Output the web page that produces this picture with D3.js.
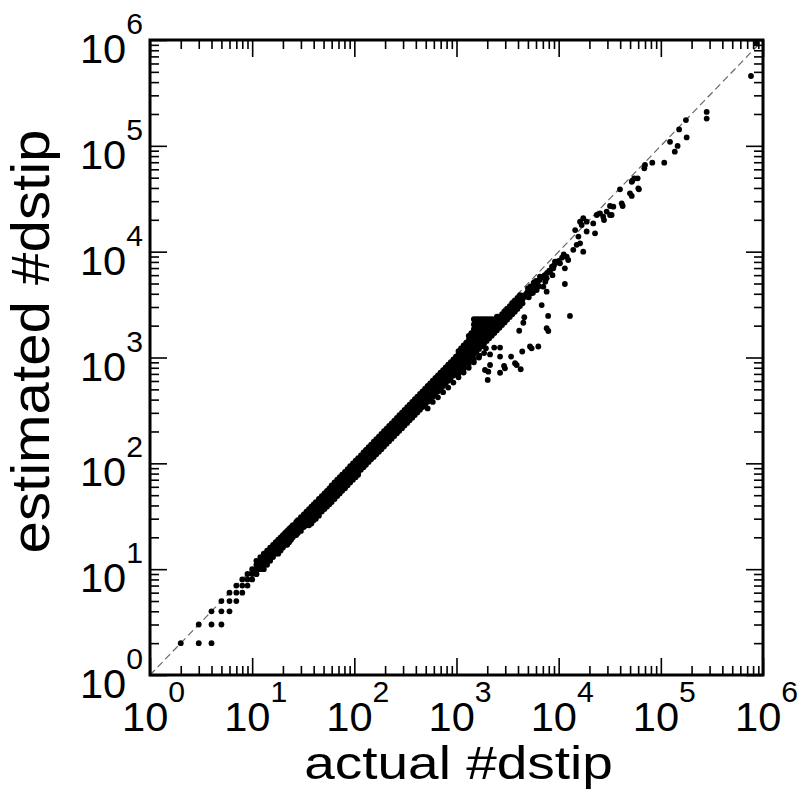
<!DOCTYPE html>
<html>
<head>
<meta charset="utf-8">
<script src="https://cdn.jsdelivr.net/npm/d3@7"></script>
<style>
    body { margin: 0; background: #fff; }
    #chart-area { width: 799px; height: 791px; }
    text { font-family: "Liberation Sans", Arial, sans-serif; fill: #000; }
</style>
</head>
<body>
<div id="chart-area"></div>
<script>
// integer region: [actual, estimated]
const lowPoints = [
    [2, 2], [3, 2], [4, 2], [3, 3], [4, 3], [5, 3], [4, 4], [5, 4], [6, 4],
    [5, 5], [6, 5], [7, 5], [6, 6], [7, 6], [8, 6], [7, 7], [8, 7], [9, 7],
    [8, 8], [9, 8], [10, 8], [9, 9], [10, 9], [11, 9], [10, 10], [11, 10]
];

// dense band: one column of estimates per actual value
const bandActual = [
    11, 12, 13, 14, 15, 16, 17, 18, 19, 20, 21, 22, 23, 24, 25, 27, 28, 30, 32, 34,
    36, 38, 40, 42, 45, 48, 51, 54, 57, 60, 64, 68, 72, 76, 81, 86, 91, 97, 103, 109,
    116, 123, 130, 138, 146, 155, 164, 174, 184, 195, 207, 219, 232, 246, 261, 276, 293,
    310, 329, 348, 369, 391, 414, 439, 465, 493, 522, 553, 586, 621, 658, 697, 739, 783,
    830, 879, 932, 987, 1046, 1108, 1174, 1244, 1318, 1396, 1479, 1567, 1660, 1759, 1863,
    1974, 2091, 2216, 2347, 2487, 2635, 2791, 2957, 3133, 3319, 3516, 3725, 3946, 4180, 4430
];
const bandEstimated = [
    [9, 10, 11, 12], [10, 11, 12, 13], [10, 11, 12, 13, 14], [11, 12, 13, 14, 15],
    [12, 13, 14, 15, 16], [13, 14, 15, 16, 17], [14, 15, 16, 17, 18], [14, 15, 16, 17, 18, 19],
    [15, 16, 17, 18, 19, 20], [16, 17, 18, 19, 20, 21], [17, 18, 19, 20, 21, 22],
    [17, 18, 19, 20, 21, 22, 23], [18, 19, 20, 21, 22, 23, 24], [19, 20, 21, 22, 23, 24, 25],
    [20, 21, 22, 23, 24, 25, 26], [21, 22, 23, 24, 25, 26, 27, 28], [22, 24, 25, 26, 27, 29],
    [23, 25, 26, 28, 29, 31], [25, 26, 28, 30, 31, 33], [26, 28, 30, 32, 33, 35],
    [26, 28, 30, 32, 34, 35, 37], [27, 29, 31, 33, 35, 37, 39], [29, 31, 33, 35, 37, 39, 41],
    [30, 32, 35, 37, 39, 41, 43], [32, 34, 37, 39, 42, 44, 46], [35, 37, 39, 42, 44, 47, 49],
    [37, 39, 42, 45, 47, 50, 52], [39, 41, 44, 47, 50, 53, 55], [41, 44, 47, 50, 53, 56, 58],
    [43, 46, 49, 53, 56, 59, 62], [46, 49, 52, 56, 59, 63, 66], [49, 52, 55, 59, 63, 67, 70],
    [52, 55, 59, 63, 67, 71, 74], [55, 58, 62, 66, 70, 75, 78], [58, 61, 66, 70, 75, 79, 83],
    [62, 65, 70, 74, 79, 84, 88], [66, 69, 74, 79, 84, 89, 94], [70, 73, 78, 84, 89, 95, 100],
    [74, 77, 83, 89, 95, 101, 106], [78, 82, 88, 94, 101, 107, 112], [87, 93, 100, 107, 113, 119],
    [92, 99, 106, 113, 120, 127], [97, 105, 112, 120, 127, 134], [103, 111, 119, 127, 135, 142],
    [109, 117, 126, 134, 143, 150], [115, 124, 133, 142, 151, 160], [122, 132, 141, 151, 160, 169],
    [129, 140, 150, 160, 170, 179], [136, 148, 159, 169, 180, 190], [144, 157, 168, 179, 190, 201],
    [153, 166, 178, 190, 202, 213], [162, 176, 189, 201, 214, 226], [171, 186, 200, 213, 227, 239],
    [181, 197, 212, 226, 240, 253], [192, 209, 224, 240, 255, 269], [203, 221, 238, 254, 270, 285],
    [215, 234, 252, 269, 286, 302], [228, 248, 267, 285, 303, 320], [241, 263, 283, 302, 321, 339],
    [255, 278, 300, 320, 340, 359], [270, 295, 318, 339, 360, 380], [286, 312, 336, 359, 382, 403],
    [303, 331, 356, 381, 404, 427], [321, 350, 378, 403, 428, 452], [340, 371, 400, 427, 454, 479],
    [360, 393, 424, 453, 481, 508], [330, 381, 417, 449, 480, 510, 538], [404, 441, 476, 508, 540, 570],
    [380, 428, 468, 504, 539, 572, 604], [453, 495, 534, 571, 606, 640], [420, 480, 525, 566, 605, 642, 678],
    [508, 556, 600, 641, 680, 718], [470, 538, 589, 636, 679, 721, 761], [570, 624, 673, 720, 764, 807],
    [520, 604, 662, 714, 763, 810, 855], [640, 701, 756, 808, 858, 905],
    [580, 677, 743, 801, 857, 909, 960], [717, 787, 849, 908, 963, 1020],
    [650, 700, 760, 834, 900, 962, 1021, 1080, 1150], [805, 884, 953, 1019, 1082, 1145, 1220],
    [720, 780, 853, 936, 1010, 1080, 1146, 1215, 1300], [903, 992, 1070, 1144, 1215, 1290, 1380],
    [800, 870, 957, 1051, 1134, 1212, 1287, 1370, 1460, 1600],
    [1014, 1113, 1201, 1284, 1364, 1450, 1550, 1700],
    [900, 960, 1074, 1180, 1273, 1361, 1445, 1540, 1650, 1850, 2050, 2300],
    [1137, 1250, 1348, 1442, 1531, 1630, 1750, 1950, 2150, 2300],
    [1000, 1205, 1324, 1428, 1527, 1622, 1730, 1850, 2050, 2300],
    [1277, 1403, 1513, 1618, 1718, 1830, 1950, 2150, 2300],
    [1100, 1353, 1486, 1603, 1714, 1820, 1940, 2070, 2300],
    [1433, 1574, 1698, 1816, 1928, 2050, 2300], [1518, 1668, 1799, 1924, 2043, 2170, 2300],
    [1608, 1767, 1906, 2038, 2165, 2300], [1704, 1872, 2019, 2159, 2293],
    [1805, 1983, 2139, 2288, 2430], [1912, 2101, 2266, 2424], [2026, 2226, 2401, 2568],
    [2146, 2358, 2543, 2721], [2274, 2498, 2694, 2883], [2409, 2647, 2854, 3054],
    [2560, 2820, 3050, 3260], [2710, 2990, 3230, 3450], [2880, 3170, 3420, 3660],
    [3060, 3360, 3620, 3880], [3250, 3560, 3840]
];

// sparse upper part: [actual, estimated]
const sparsePoints = [
    [4700, 3900], [4900, 4100], [5100, 3700], [5200, 4300], [5500, 4600], [5600, 4100],
    [5800, 4800], [6200, 5000], [6400, 4700], [6500, 5400], [6900, 5700], [7300, 6000],
    [7400, 5200], [7700, 6300], [8100, 6600], [8600, 7200], [8700, 6000], [9000, 7400],
    [9500, 7900], [10000, 8200], [10800, 8800], [11200, 9400],
    [4860, 3760], [5440, 4040], [6090, 4340], [7080, 4670], [5000, 4500], [5300, 4700],
    [5700, 5100], [6000, 5300], [6560, 5800], [7630, 5600], [8220, 6470], [8850, 6960],
    [9200, 8040], [10300, 7770], [11500, 6960], [12400, 8340], [12000, 8970], [13900, 10400],
    [17400, 10000], [15000, 11600], [16200, 12000], [15600, 13900], [14500, 16000],
    [18800, 15500], [22700, 14900], [16800, 17900], [21800, 18500], [16200, 19200],
    [18800, 19200], [17400, 20700], [23600, 22200], [31800, 22200], [27300, 21400],
    [25400, 23000], [29500, 23900], [27800, 19900], [33000, 22200], [34300, 26600],
    [31800, 27000], [42300, 27000], [41400, 28600], [51900, 33600], [49900, 35600],
    [39800, 38800], [61000, 38800], [60200, 39700], [51900, 45800], [52600, 46900],
    [55000, 49300], [59300, 49300], [68900, 61400], [70000, 65900], [82500, 69300],
    [108000, 69300], [137000, 88100], [146000, 99700], [123000, 109000], [179000, 120000],
    [151000, 143000], [176000, 175000], [281000, 181000], [281000, 209000],
    [763000, 457000], [867000, 931000]
];
// points well under the band around 10^3..10^4
const outlierPoints = [
    [11500, 4950], [12900, 2470], [7890, 2470], [7630, 1890], [7920, 1780], [7630, 4190],
    [6320, 1270], [5240, 1270], [5440, 1220], [4400, 1140], [3420, 1020], [3740, 882],
    [3880, 849], [4250, 774], [2920, 832], [2980, 791], [2670, 718], [2130, 849],
    [1900, 762], [2050, 735], [2020, 614], [1670, 1040], [2670, 1020], [2130, 1070],
    [2340, 1240], [2670, 1240], [1940, 1220], [4110, 1790], [4510, 2130], [4610, 2400],
    [6820, 3130]
];

const tickExponents = [0, 1, 2, 3, 4, 5, 6];
const xTitle = "actual #dstip";
const yTitle = "estimated #dstip";

class ScatterVis {

    constructor(parentElement, data) {
        this.parentElement = parentElement;
        this.data = data;

        this.initVis();
    }

    initVis() {
        let vis = this;

        vis.margin = {top: 40, right: 36, bottom: 116, left: 150};
        vis.width = 799 - vis.margin.left - vis.margin.right;
        vis.height = 791 - vis.margin.top - vis.margin.bottom;

        vis.svg = d3.select(`#${vis.parentElement}`)
            .append("svg")
            .attr("width", 799)
            .attr("height", 791)
            .append("g")
            .attr("transform", `translate(${vis.margin.left},${vis.margin.top})`);

        vis.x = d3.scaleLog().domain([1, 1e6]).range([0, vis.width]);
        vis.y = d3.scaleLog().domain([1, 1e6]).range([vis.height, 0]);

        vis.majors = tickExponents.map(e => Math.pow(10, e));
        vis.minors = [];
        tickExponents.slice(0, -1).forEach(e => {
            for (let m = 2; m <= 9; m++) vis.minors.push(m * Math.pow(10, e));
        });

        vis.wrangleData();
    }

    wrangleData() {
        let vis = this;

        vis.points = [];
        vis.data.low.forEach(d => vis.points.push(d));
        vis.data.bandActual.forEach((a, i) => {
            vis.data.bandEstimated[i].forEach(e => vis.points.push([a, e]));
        });
        vis.data.sparse.forEach(d => vis.points.push(d));
        vis.data.outliers.forEach(d => vis.points.push(d));

        vis.updateVis();
    }

    updateVis() {
        let vis = this;

        // y = x reference line
        vis.svg.append("line")
            .attr("x1", vis.x(1)).attr("y1", vis.y(1))
            .attr("x2", vis.x(1e6)).attr("y2", vis.y(1e6))
            .attr("stroke", "#666")
            .attr("stroke-width", 1.2)
            .attr("stroke-dasharray", "7,4");

        vis.svg.selectAll(".dot")
            .data(vis.points)
            .enter().append("circle")
            .attr("class", "dot")
            .attr("cx", d => vis.x(d[0]))
            .attr("cy", d => vis.y(d[1]))
            .attr("r", 2.9)
            .attr("fill", "#000");

        // inward ticks on all four sides
        let addAxis = (axis, values, size, transform) => {
            vis.svg.append("g")
                .attr("transform", transform)
                .call(axis.tickValues(values).tickSize(-size).tickFormat(""))
                .call(g => g.select(".domain").remove())
                .selectAll("line").attr("stroke", "#000").attr("stroke-width", 1.6);
        };
        [[vis.majors, 17], [vis.minors, 9]].forEach(([vals, size]) => {
            addAxis(d3.axisBottom(vis.x), vals, size, `translate(0,${vis.height})`);
            addAxis(d3.axisTop(vis.x), vals, size, "translate(0,0)");
            addAxis(d3.axisLeft(vis.y), vals, size, "translate(0,0)");
            addAxis(d3.axisRight(vis.y), vals, size, `translate(${vis.width},0)`);
        });

        vis.svg.append("rect")
            .attr("width", vis.width)
            .attr("height", vis.height)
            .attr("fill", "none")
            .attr("stroke", "#000")
            .attr("stroke-width", 3);

        // tick labels 10^k
        let xl = vis.svg.selectAll(".xlabel")
            .data(tickExponents)
            .enter().append("text")
            .attr("class", "xlabel")
            .attr("transform", d => `translate(${vis.x(Math.pow(10, d)) - 28},${vis.height + 56}) scale(1.04,1)`)
            .style("font-size", "40px");
        xl.append("tspan").text("10");
        xl.append("tspan").attr("dy", -29).style("font-size", "29px").text(d => d);

        let yl = vis.svg.selectAll(".ylabel")
            .data(tickExponents)
            .enter().append("text")
            .attr("class", "ylabel")
            .attr("text-anchor", "end")
            .attr("transform", d => `translate(-7,${vis.y(Math.pow(10, d)) + 23}) scale(1.04,1)`)
            .style("font-size", "40px");
        yl.append("tspan").text("10");
        yl.append("tspan").attr("dy", -29).style("font-size", "29px").text(d => d);

        // axis titles
        vis.svg.append("text")
            .attr("text-anchor", "middle")
            .attr("transform", `translate(${vis.width / 2 + 2},${vis.height + 104}) scale(1.17,1)`)
            .style("font-size", "47px")
            .text(xTitle);

        vis.svg.append("text")
            .attr("text-anchor", "middle")
            .attr("transform", `translate(-101,${vis.height / 2 - 16}) rotate(-90) scale(1.12,1.05)`)
            .style("font-size", "52px")
            .text(yTitle);
    }
}

new ScatterVis("chart-area", {
    low: lowPoints,
    bandActual: bandActual,
    bandEstimated: bandEstimated,
    sparse: sparsePoints,
    outliers: outlierPoints
});
</script>
</body>
</html>
